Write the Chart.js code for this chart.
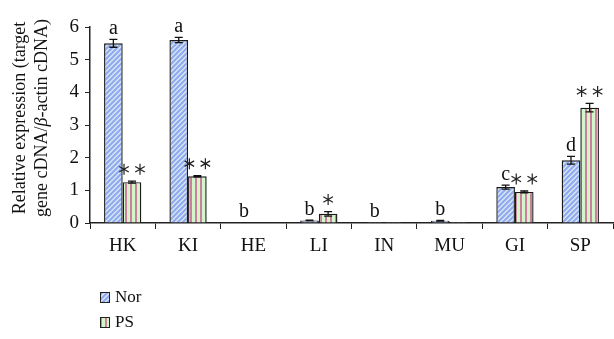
<!DOCTYPE html>
<html>
<head>
<meta charset="utf-8">
<script src="https://cdn.jsdelivr.net/npm/chart.js@4"></script>
<style>
  html, body { margin: 0; padding: 0; background: #fff; }
  #wrap { width: 614px; height: 339px; }
</style>
</head>
<body>
<div id="wrap"><canvas id="chart"></canvas></div>
<script>
const tissues = ["HK", "KI", "HE", "LI", "IN", "MU", "GI", "SP"];
const norValues = [5.5, 5.6, 0.02, 0.08, 0.03, 0.07, 1.1, 1.92];
const norErrors = [0.12, 0.08, 0.0, 0.01, 0.0, 0.01, 0.06, 0.12];
const psValues = [1.25, 1.43, 0.01, 0.28, 0.03, 0.03, 0.95, 3.53];
const psErrors = [0.03, 0.02, 0.0, 0.07, 0.0, 0.0, 0.03, 0.13];
const norMarks = ["a", "a", "b", "b", "b", "b", "c", "d"];
const psMarks = ["**", "**", "", "*", "", "", "**", "**"];
const yTicks = [0, 1, 2, 3, 4, 5, 6];

const FONT = "'Liberation Serif', 'Times New Roman', serif";

function stripes(kind) {
  const c = document.createElement("canvas");
  const g = c.getContext("2d");
  if (kind === "diag") {
    const s = 5;
    c.width = s; c.height = s;
    g.fillStyle = "#cdeff0";
    g.fillRect(0, 0, s, s);
    g.strokeStyle = "#98a6f0";
    g.lineWidth = 2.2;
    g.beginPath();
    g.moveTo(-1, s + 1); g.lineTo(s + 1, -1);
    g.moveTo(-1, 1); g.lineTo(1, -1);
    g.moveTo(s - 1, s + 1); g.lineTo(s + 1, s - 1);
    g.stroke();
  } else {
    c.width = 5; c.height = 4;
    g.fillStyle = "#d2f6c9";
    g.fillRect(0, 0, 5, 4);
    g.fillStyle = "#e6b4c4";
    g.fillRect(0, 0, 2, 4);
    g.fillStyle = "#b44d78";
    g.fillRect(0.5, 0, 1, 4);
  }
  return g.createPattern(c, "repeat");
}

const norFill = stripes("diag");
const psFill = stripes("vert");

// six-armed asterisk like the one in the figure
function star(ctx, x, y, r) {
  ctx.beginPath();
  for (let k = 0; k < 3; k++) {
    const a = Math.PI / 2 + k * Math.PI / 3;
    ctx.moveTo(x + r * Math.cos(a), y - r * Math.sin(a));
    ctx.lineTo(x - r * Math.cos(a), y + r * Math.sin(a));
  }
  ctx.stroke();
}

const errorBars = {
  id: "errorBars",
  afterDatasetsDraw(chart) {
    const { ctx, scales: { y } } = chart;
    const errs = [norErrors, psErrors];
    const marks = [norMarks, psMarks];
    ctx.save();
    chart.data.datasets.forEach((ds, di) => {
      const meta = chart.getDatasetMeta(di);
      meta.data.forEach((bar, i) => {
        const v = ds.data[i], e = errs[di][i];
        const top = y.getPixelForValue(v + e);
        const bot = y.getPixelForValue(v - e);
        if (e > 0) {
          ctx.strokeStyle = "#111";
          ctx.lineWidth = 1.3;
          ctx.beginPath();
          ctx.moveTo(bar.x, top); ctx.lineTo(bar.x, bot);
          ctx.moveTo(bar.x - 4, top); ctx.lineTo(bar.x + 4, top);
          ctx.moveTo(bar.x - 4, bot); ctx.lineTo(bar.x + 4, bot);
          ctx.stroke();
        }
        const m = marks[di][i];
        if (!m) return;
        ctx.fillStyle = "#111";
        ctx.strokeStyle = "#222";
        if (di === 0) {
          ctx.font = "20px " + FONT;
          ctx.textAlign = "center";
          ctx.textBaseline = "alphabetic";
          ctx.fillText(m, bar.x, top - 5);
        } else {
          ctx.lineWidth = 1.2;
          const cy = top - 12;
          if (m.length === 2) {
            star(ctx, bar.x - 8, cy, 5.5);
            star(ctx, bar.x + 8, cy, 5.5);
          } else {
            star(ctx, bar.x, cy, 5.5);
          }
        }
      });
    });
    ctx.restore();
  }
};

const sideText = {
  id: "sideText",
  afterDraw(chart) {
    const { ctx, chartArea } = chart;
    const cy = (chartArea.top + chartArea.bottom) / 2 - 7;
    ctx.save();
    ctx.fillStyle = "#111";
    ctx.textBaseline = "middle";
    ctx.translate(0, cy);
    ctx.rotate(-Math.PI / 2);
    const up = "18px " + FONT, it = "italic 18px " + FONT;
    ctx.font = up;
    ctx.textAlign = "center";
    ctx.fillText("Relative expression (target", 0, 20);
    const parts = [["gene cDNA/", up], ["β", it], ["-actin cDNA)", up]];
    let w = 0;
    parts.forEach(p => { ctx.font = p[1]; w += ctx.measureText(p[0]).width; });
    let x = -w / 2;
    ctx.textAlign = "left";
    parts.forEach(p => {
      ctx.font = p[1];
      ctx.fillText(p[0], x, 42);
      x += ctx.measureText(p[0]).width;
    });
    ctx.restore();

    // legend
    ctx.save();
    ctx.font = "17px " + FONT;
    ctx.textBaseline = "middle";
    ctx.textAlign = "left";
    chart.data.datasets.forEach((ds, i) => {
      const yy = 297 + i * 25;
      ctx.fillStyle = ds.backgroundColor;
      ctx.fillRect(100, yy - 5, 9, 10);
      ctx.strokeStyle = "#222";
      ctx.lineWidth = 1;
      ctx.strokeRect(100.5, yy - 4.5, 9, 10);
      ctx.fillStyle = "#111";
      ctx.fillText(ds.label, 115, yy + 1);
    });
    ctx.restore();
  }
};

new Chart(document.getElementById("chart"), {
  type: "bar",
  data: {
    labels: tissues,
    datasets: [
      { label: "Nor", data: norValues, backgroundColor: norFill, borderColor: "#1a1a1a", borderWidth: 1.4 },
      { label: "PS", data: psValues, backgroundColor: psFill, borderColor: "#1a1a1a", borderWidth: 1.4 }
    ]
  },
  options: {
    responsive: true,
    maintainAspectRatio: false,
    animation: false,
    layout: { padding: { top: 27, right: 1, bottom: 84, left: 0 } },
    datasets: { bar: { barPercentage: 1, categoryPercentage: 0.57 } },
    scales: {
      x: {
        grid: { display: true, drawOnChartArea: false, offset: true, tickLength: 6, color: "#222" },
        border: { color: "#222", width: 1.5 },
        ticks: { color: "#111", font: { family: FONT, size: 19 }, padding: 6 },
        afterFit: (s) => { s.height = 32; }
      },
      y: {
        min: 0,
        max: 6,
        afterBuildTicks: (s) => { s.ticks = yTicks.map(v => ({ value: v })); },
        grid: { display: true, drawOnChartArea: false, tickLength: 5, color: "#222" },
        border: { color: "#222", width: 1.5 },
        ticks: { color: "#111", font: { family: FONT, size: 19 }, padding: 6 },
        afterFit: (s) => { s.width = 90; }
      }
    },
    plugins: {
      legend: { display: false },
      tooltip: { enabled: false }
    }
  },
  plugins: [errorBars, sideText]
});
</script>
</body>
</html>
